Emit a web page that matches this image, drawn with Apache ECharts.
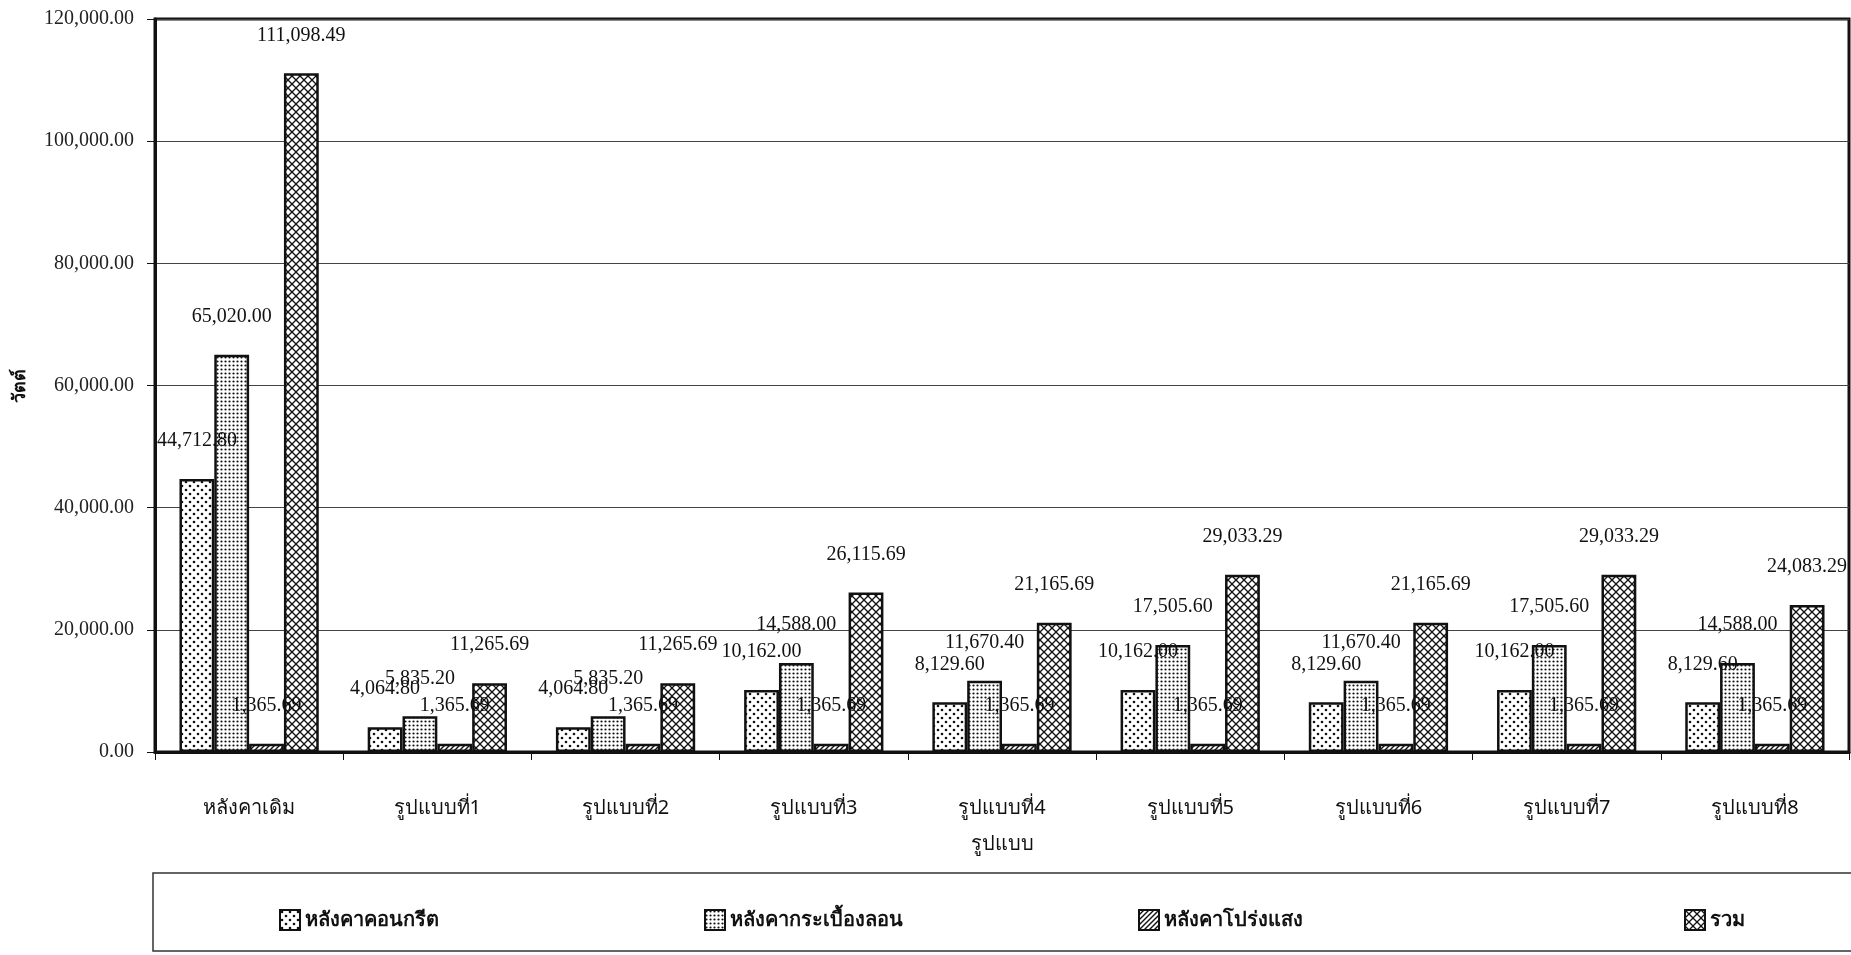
<!DOCTYPE html>
<html>
<head>
<meta charset="utf-8">
<title>วัตต์ ตามรูปแบบหลังคา</title>
<script src="https://cdn.jsdelivr.net/npm/echarts@6/dist/echarts.min.js"></script>
<style>
  html, body { margin: 0; padding: 0; background: #fff; }
  #chart { width: 1851px; height: 955px; }
</style>
</head>
<body>
<div id="chart"></div>
<script>
// ข้อมูล (อ่านจากภาพ)
const categories = ['หลังคาเดิม', 'รูปแบบที่1', 'รูปแบบที่2', 'รูปแบบที่3', 'รูปแบบที่4', 'รูปแบบที่5', 'รูปแบบที่6', 'รูปแบบที่7', 'รูปแบบที่8'];
const seriesNames = ['หลังคาคอนกรีต', 'หลังคากระเบื้องลอน', 'หลังคาโปร่งแสง', 'รวม'];
const concreteValues = [44712.80, 4064.80, 4064.80, 10162.00, 8129.60, 10162.00, 8129.60, 10162.00, 8129.60];
const tileValues = [65020.00, 5835.20, 5835.20, 14588.00, 11670.40, 17505.60, 11670.40, 17505.60, 14588.00];
const translucentValues = [1365.69, 1365.69, 1365.69, 1365.69, 1365.69, 1365.69, 1365.69, 1365.69, 1365.69];
const totalValues = [111098.49, 11265.69, 11265.69, 26115.69, 21165.69, 29033.29, 21165.69, 29033.29, 24083.29];
const yTicks = [0, 20000, 40000, 60000, 80000, 100000, 120000];

const serif = '"Liberation Serif", "DejaVu Serif", serif';
const thai = '"Noto Sans", "DejaVu Sans", sans-serif';

// ลายพื้นแท่ง
function makePattern(kind) {
  const c = document.createElement('canvas');
  const ctx = c.getContext('2d');
  let s = 8;
  if (kind === 'dense') s = 4;
  if (kind === 'diag') s = 5;
  c.width = s; c.height = s;
  ctx.fillStyle = '#fff';
  ctx.fillRect(0, 0, s, s);
  ctx.fillStyle = '#111';
  ctx.strokeStyle = '#111';
  if (kind === 'dots') {
    ctx.beginPath(); ctx.arc(2, 2, 1.3, 0, Math.PI * 2); ctx.fill();
    ctx.beginPath(); ctx.arc(6, 6, 1.3, 0, Math.PI * 2); ctx.fill();
  } else if (kind === 'dense') {
    ctx.beginPath(); ctx.arc(1.5, 1.5, 1.1, 0, Math.PI * 2); ctx.fill();
  } else if (kind === 'diag') {
    ctx.lineWidth = 1.4;
    ctx.beginPath();
    ctx.moveTo(-1, s + 1); ctx.lineTo(s + 1, -1);
    ctx.moveTo(-1, 1); ctx.lineTo(1, -1);
    ctx.moveTo(s - 1, s + 1); ctx.lineTo(s + 1, s - 1);
    ctx.stroke();
  } else {
    ctx.lineWidth = 1.3;
    ctx.beginPath();
    ctx.moveTo(0, 0); ctx.lineTo(s, s);
    ctx.moveTo(0, s); ctx.lineTo(s, 0);
    ctx.stroke();
    ctx.beginPath(); ctx.arc(4, 4, 1.1, 0, Math.PI * 2); ctx.fill();
  }
  return { image: c, repeat: 'repeat' };
}

const patterns = [makePattern('dots'), makePattern('dense'), makePattern('diag'), makePattern('cross')];
const valueSets = [concreteValues, tileValues, translucentValues, totalValues];

function fmt(v) {
  return Number(v).toLocaleString('en-US', { minimumFractionDigits: 2, maximumFractionDigits: 2 });
}

const series = seriesNames.map((name, i) => ({
  name,
  type: 'bar',
  data: valueSets[i],
  barGap: '0%',
  barCategoryGap: '26%',
  itemStyle: { color: patterns[i], borderColor: '#111', borderWidth: 2.5 },
  label: {
    show: true,
    position: 'top',
    distance: 28,
    formatter: p => fmt(p.value),
    fontFamily: serif,
    fontSize: 20,
    color: '#111'
  }
}));

// legend แยกเป็น 4 อันเพื่อวางตำแหน่งตามภาพ
const legendLefts = [274, 699, 1133, 1679];
const legends = seriesNames.map((name, i) => ({
  data: [name],
  left: legendLefts[i],
  top: 904,
  itemWidth: 20,
  itemHeight: 20,
  icon: 'rect',
  itemGap: 8,
  selectedMode: false,
  textStyle: { fontFamily: thai, fontSize: 20, fontWeight: 'bold', color: '#111' }
}));

const chart = echarts.init(document.getElementById('chart'));
chart.setOption({
  backgroundColor: '#fff',
  animation: false,
  grid: {
    left: 155, right: 2, top: 19, bottom: 203,
    show: true, borderColor: '#111', borderWidth: 3, backgroundColor: 'transparent'
  },
  legend: legends,
  graphic: [{
    type: 'rect',
    shape: { x: 153, y: 873, width: 1700, height: 78 },
    style: { fill: 'none', stroke: '#333', lineWidth: 1.5 },
    z: -1
  }],
  xAxis: {
    type: 'category',
    data: categories,
    name: 'รูปแบบ',
    nameLocation: 'middle',
    nameGap: 82,
    nameTextStyle: { fontFamily: thai, fontSize: 20, color: '#111' },
    axisLine: { lineStyle: { color: '#111', width: 3 } },
    axisTick: { show: true, length: 8, lineStyle: { color: '#111', width: 1 } },
    axisLabel: { margin: 46, fontFamily: thai, fontSize: 20, color: '#111' }
  },
  yAxis: {
    type: 'value',
    min: 0,
    max: yTicks[yTicks.length - 1],
    interval: yTicks[1] - yTicks[0],
    name: 'วัตต์',
    nameLocation: 'middle',
    nameGap: 126,
    nameTextStyle: { fontFamily: thai, fontSize: 18, fontWeight: 'bold', color: '#111' },
    axisLine: { show: true, lineStyle: { color: '#111', width: 3 } },
    axisTick: { show: true, length: 8, lineStyle: { color: '#111', width: 1 } },
    axisLabel: { margin: 21, formatter: v => fmt(v), fontFamily: serif, fontSize: 20, color: '#222' },
    splitLine: { show: true, lineStyle: { color: '#444', width: 1.2 } }
  },
  series
});
</script>
</body>
</html>
